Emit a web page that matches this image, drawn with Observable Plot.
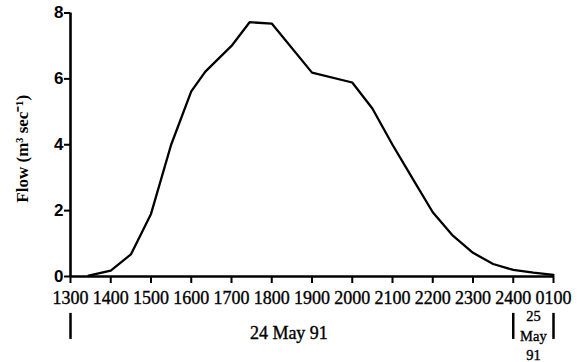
<!DOCTYPE html>
<html>
<head>
<meta charset="utf-8">
<script src="https://cdn.jsdelivr.net/npm/d3@7"></script>
<script src="https://cdn.jsdelivr.net/npm/@observablehq/plot@0.6"></script>
<style>
  body { margin: 0; background: #fff; }
  #chart svg { display: block; }
  #chart svg g[aria-label="x-axis tick label"] text,
  #chart svg g.serif-text text { stroke: #000; stroke-width: 0.35px; }
</style>
</head>
<body>
<div id="chart"></div>
<script>
// Time in hours from 1300 on 24 May 91 (25 = 0100 on 25 May 91)
const hours = [13.45, 14, 14.5, 15, 15.5, 16, 16.35, 17, 17.45, 18, 19, 20, 20.5, 21, 21.5, 22, 22.5, 23, 23.5, 24, 24.5, 25];
const flows = [0.03, 0.18, 0.67, 1.9, 4.0, 5.62, 6.22, 7.0, 7.72, 7.68, 6.19, 5.89, 5.1, 4.0, 2.97, 1.95, 1.24, 0.72, 0.38, 0.2, 0.12, 0.05];

const xTicks = [13, 14, 15, 16, 17, 18, 19, 20, 21, 22, 23, 24, 25];
const xTickLabels = ["1300", "1400", "1500", "1600", "1700", "1800", "1900", "2000", "2100", "2200", "2300", "2400", "0100"];
const yTicks = [0, 2, 4, 6, 8];

const dayBracketHours = [13, 24, 25];
const dayLabels = ["24 May 91", "25\nMay\n91"];
const dayLabelHours = [18.5, 24.5];

const data = hours.map((h, i) => ({hour: h, flow: flows[i]}));
const labelMap = new Map(xTicks.map((t, i) => [t, xTickLabels[i]]));

const chart = Plot.plot({
  width: 580,
  height: 362,
  marginLeft: 70,
  marginRight: 27,
  marginTop: 12.5,
  marginBottom: 86,
  style: {background: "#fff", color: "#000"},
  x: {domain: [13, 25]},
  y: {domain: [0, 8]},
  marks: [
    Plot.axisX({
      ticks: xTicks,
      tickFormat: d => labelMap.get(d),
      tickSize: 7,
      tickPadding: 8,
      strokeWidth: 2,
      fontSize: 18,
      fontFamily: "Liberation Serif",
      label: null
    }),
    Plot.axisY({
      ticks: yTicks,
      tickSize: 6,
      tickPadding: 1,
      strokeWidth: 2,
      fontSize: 17,
      fontWeight: "bold",
      fontFamily: "Liberation Sans",
      label: null
    }),
    Plot.ruleY([0], {strokeWidth: 2.6}),
    Plot.ruleX([13], {y1: 0, y2: 8, strokeWidth: 2.6}),
    Plot.line(data, {x: "hour", y: "flow", stroke: "#000", strokeWidth: 2.3, strokeLinejoin: "miter"}),
    Plot.ruleX(dayBracketHours, {y1: -1.12, y2: -1.91, strokeWidth: 2.5}),
    Plot.text([dayLabels[0]], {x: dayLabelHours[0], y: 0, dx: -3, dy: 57, text: d => d, fontSize: 18, fontFamily: "Liberation Serif", fill: "#000", className: "serif-text"}),
    Plot.text([dayLabels[1]], {x: dayLabelHours[1], y: 0, dy: 58, text: d => d, fontSize: 14.5, lineHeight: 1.35, fontFamily: "Liberation Serif", fill: "#000", className: "serif-text"}),
    Plot.text(["Flow (m³ sec⁻¹)"], {frameAnchor: "left", textAnchor: "middle", dx: -48, dy: 4, rotate: -90, text: d => d, fontSize: 17, fontWeight: "bold", fontFamily: "Liberation Serif", fill: "#000"})
  ]
});
document.getElementById("chart").appendChild(chart);
</script>
</body>
</html>
